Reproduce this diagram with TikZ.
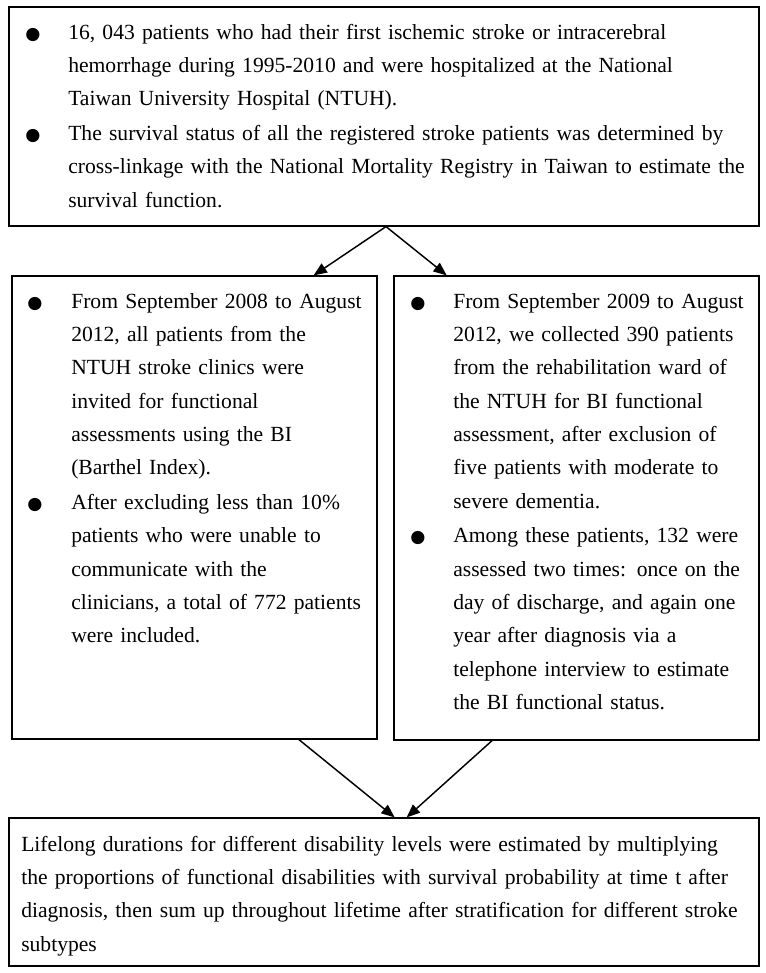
\documentclass[tikz,border=0pt]{standalone}
\usepackage{fontspec}
\setmainfont{Liberation Serif}
\newfontfamily\symf{DejaVu Sans}
\usetikzlibrary{arrows.meta,fit}
% #1 bullet column width, #2 text column width, #3 text
\newcommand\itm[3]{\noindent\makebox[#1][l]{{\symf\fontsize{13}{13}\selectfont ●}}%
  \parbox[t]{#2}{\raggedright\strut #3\strut}\par}
\tikzset{
  box/.style={draw, line width=0.9pt, inner sep=0pt},
  txt/.style={anchor=north west, inner sep=0pt, font=\fontsize{16.2}{25}\selectfont},
  arr/.style={line width=1.1pt, -{Triangle[length=10pt,width=8pt]}}
}
\begin{document}
\begin{tikzpicture}[x=0.75pt,y=-0.75pt]
\useasboundingbox (0,0) rectangle (766,973);
\fill[white] (0,0) rectangle (766,973);
\node[box, fit={(9,7) (759,226)}] (top) {};
\node[box, fit={(12,276) (377,739)}] (left) {};
\node[box, fit={(394,276) (759,740)}] (right) {};
\node[box, fit={(9,818) (759,966)}] (bottom) {};

\node[txt, text width=555pt] (ttop) at (25,15.7) {%
\itm{32.25pt}{520pt}{16, 043 patients who had their first ischemic stroke or intracerebral\\
hemorrhage during 1995-2010 and were hospitalized at the National\\
Taiwan University Hospital (NTUH).}
\itm{32.25pt}{520pt}{The survival status of all the registered stroke patients was determined by\\
cross-linkage with the National Mortality Registry in Taiwan to estimate the\\
survival function.}};

\node[txt, text width=270pt] (tleft) at (27,284.7) {%
\itm{33pt}{235pt}{From September 2008 to August\\
2012, all patients from the\\
NTUH stroke clinics were\\
invited for functional\\
assessments using the BI\\
(Barthel Index).}
\itm{33pt}{235pt}{After excluding less than 10\%\\
patients who were unable to\\
communicate with the\\
clinicians, a total of 772 patients\\
were included.}};

\node[txt, text width=270pt] (tright) at (410,284.7) {%
\itm{32.25pt}{235pt}{From September 2009 to August\\
2012, we collected 390 patients\\
from the rehabilitation ward of\\
the NTUH for BI functional\\
assessment, after exclusion of\\
five patients with moderate to\\
severe dementia.}
\itm{32.25pt}{235pt}{Among these patients, 132 were\\
assessed two times: once on the\\
day of discharge, and again one\\
year after diagnosis via a\\
telephone interview to estimate\\
the BI functional status.}};

\node[txt, text width=555pt, align=left] (tbottom) at (21,827.7) {%
\strut Lifelong durations for different disability levels were estimated by multiplying\\
the proportions of functional disabilities with survival probability at time t after\\
diagnosis, then sum up throughout lifetime after stratification for different stroke\\
subtypes\strut};

\draw[arr] ([xshift=1.5pt]top.south) -- ([xshift=-48pt]left.north east);
\draw[arr] ([xshift=1.5pt]top.south) -- ([xshift=40pt]right.north west);
\draw[arr] ([xshift=-59pt]left.south east) -- ([xshift=8pt]bottom.north);
\draw[arr] ([xshift=74pt]right.south west) -- ([xshift=17pt]bottom.north);
\end{tikzpicture}
\end{document}
